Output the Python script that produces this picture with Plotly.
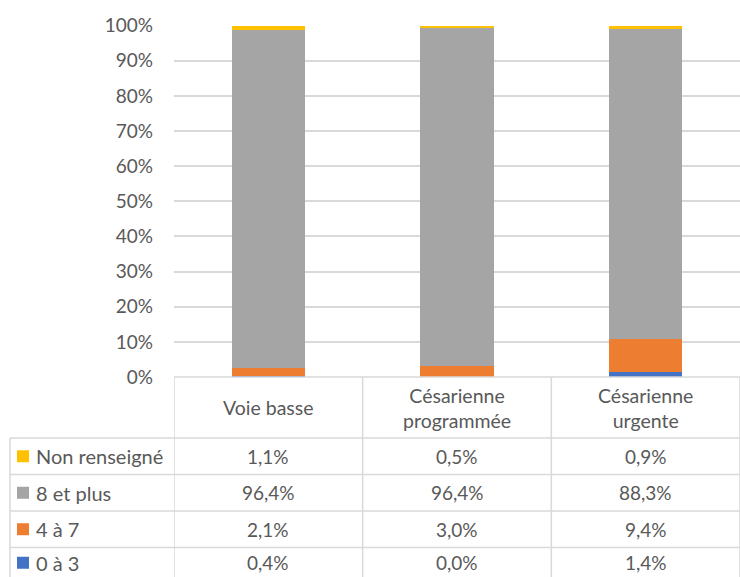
import plotly.graph_objects as go

# data
categories = ["Voie basse", "Césarienne<br>programmée", "Césarienne<br>urgente"]
series_names = ["0 à 3", "4 à 7", "8 et plus", "Non renseigné"]
val_0_3 = [0.4, 0.0, 1.4]
val_4_7 = [2.1, 3.0, 9.4]
val_8_plus = [96.4, 96.4, 88.3]
val_nr = [1.1, 0.5, 0.9]
colors = ["#4472C4", "#ED7D31", "#A5A5A5", "#FFC000"]

all_values = [val_0_3, val_4_7, val_8_plus, val_nr]

W, H = 740, 577
FONT = "Lato"
TXT = "#595959"
GRID = "#d9d9d9"


def py(ypx):
    # pixel row -> paper y
    return (H - ypx) / H


x_idx = list(range(len(categories)))

fig = go.Figure()
for name, vals, col in zip(series_names, all_values, colors):
    fig.add_trace(go.Bar(x=x_idx, y=vals, name=name, marker=dict(color=col, line=dict(width=0)),
                         width=0.39, showlegend=False))

# table layout (pixels)
table_left = 10
header_top, header_bottom = 377, 438
row_h = 36.5
row_order = ["Non renseigné", "8 et plus", "4 à 7", "0 à 3"]

shapes = []
annotations = []

# horizontal lines of the table
for k in range(len(row_order) + 1):
    y = header_bottom + k * row_h
    shapes.append(dict(type="line", xref="paper", yref="paper", x0=table_left / W, x1=1,
                       y0=py(y), y1=py(y), line=dict(color=GRID, width=1.5)))
shapes.append(dict(type="line", xref="paper", yref="paper", x0=174 / W, x1=1,
                   y0=py(header_top), y1=py(header_top), line=dict(color=GRID, width=1.5)))
# vertical lines at category edges
for e in [-0.5, 0.5, 1.5, 2.5]:
    shapes.append(dict(type="line", xref="x", yref="paper", x0=e, x1=e,
                       y0=py(header_top), y1=0, line=dict(color=GRID, width=1.5)))
shapes.append(dict(type="line", xref="paper", yref="paper", x0=table_left / W, x1=table_left / W,
                   y0=py(header_bottom), y1=0, line=dict(color=GRID, width=1.5)))

# header labels
for i, c in enumerate(categories):
    annotations.append(dict(x=i, y=py((header_top + header_bottom) / 2), xref="x", yref="paper",
                            text=c, showarrow=False, font=dict(family=FONT, size=19.5, color=TXT),
                            xanchor="center", yanchor="middle"))

# rows: legend key + values
for r, name in enumerate(row_order):
    k = series_names.index(name)
    yc = header_bottom + r * row_h + row_h / 2
    if r == len(row_order) - 1:
        yc -= 3  # last row is cut by the frame
    shapes.append(dict(type="rect", xref="paper", yref="paper", x0=17 / W, x1=29 / W,
                       y0=py(yc + 6), y1=py(yc - 6), fillcolor=colors[k], line=dict(width=0)))
    annotations.append(dict(x=34 / W, y=py(yc), xref="paper", yref="paper", text=name,
                            showarrow=False, font=dict(family=FONT, size=20, color=TXT),
                            xanchor="left", yanchor="middle"))
    for i, v in enumerate(all_values[k]):
        annotations.append(dict(x=i, y=py(yc), xref="x", yref="paper",
                                text=f"{v:.1f}%".replace(".", ","), showarrow=False,
                                font=dict(family=FONT, size=19, color=TXT),
                                xanchor="center", yanchor="middle"))

fig.update_layout(
    barmode="stack",
    barnorm="percent",
    width=W, height=H,
    margin=dict(l=0, r=0, t=0, b=0),
    paper_bgcolor="white", plot_bgcolor="white",
    font=dict(family=FONT, size=19, color=TXT),
    shapes=shapes,
    annotations=annotations,
)
fig.update_xaxes(domain=[174 / W, 1], range=[-0.5, 2.5], showticklabels=False, automargin=False,
                 showgrid=False, zeroline=False, showline=False)
fig.update_yaxes(domain=[py(377), py(25.7)], range=[0, 100], dtick=10, ticksuffix="%",
                 showgrid=True, gridcolor=GRID, gridwidth=1.5, zeroline=False, automargin=False,
                 tickfont=dict(family=FONT, size=19, color=TXT), ticklabelstandoff=20)

# remove the default page margin so the figure sits at the window's corner
fig.write_html("out.html", config={"displayModeBar": False},
               post_script="document.body.style.margin='0px';")
